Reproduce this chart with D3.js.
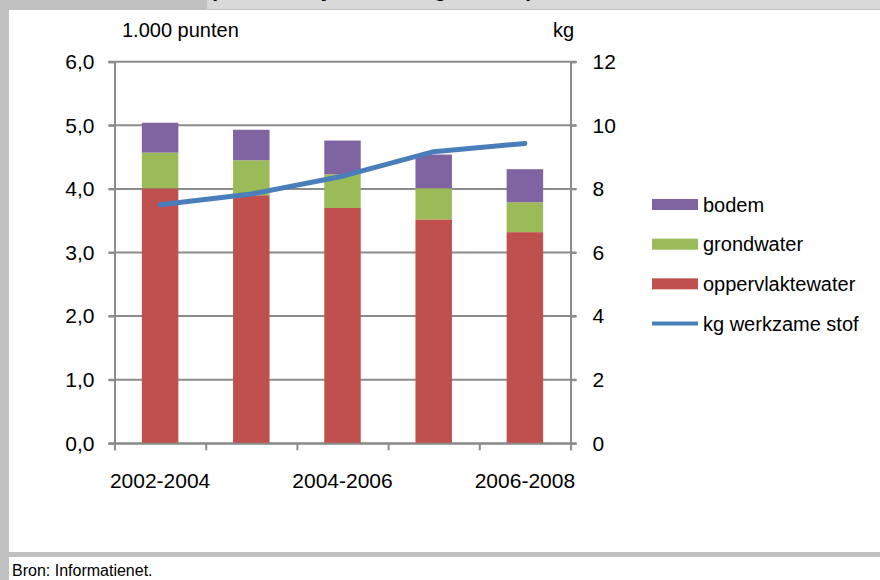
<!DOCTYPE html>
<html>
<head>
<meta charset="utf-8">
<script src="https://cdn.jsdelivr.net/npm/d3@7"></script>
<style>
  html, body { margin: 0; padding: 0; background: #fff; }
  svg { display: block; }
  text { font-family: "Liberation Sans", Arial, sans-serif; fill: #000; }
</style>
</head>
<body>
<svg id="chart" width="880" height="580"></svg>
<script>
// Periods (three-year averages)
const categories = ["2002-2004", "2003-2005", "2004-2006", "2005-2007", "2006-2008"];
const shownCategoryLabels = ["2002-2004", "2004-2006", "2006-2008"];

// Environmental load points (x 1.000) per compartment
const oppervlaktewater = [4.01, 3.90, 3.70, 3.52, 3.32];
const grondwater = [0.56, 0.55, 0.53, 0.49, 0.47];
const bodem = [0.47, 0.48, 0.53, 0.53, 0.52];

// Active substance used (kg), right axis
const kgWerkzameStof = [7.5, 7.84, 8.4, 9.17, 9.43];

const leftTicks = [0, 1, 2, 3, 4, 5, 6];
const rightTicks = [0, 2, 4, 6, 8, 10, 12];

const seriesNames = ["oppervlaktewater", "grondwater", "bodem"];
const seriesColors = { oppervlaktewater: "#c0504d", grondwater: "#9bbb59", bodem: "#8064a2" };
const lineColor = "#4a7ebb";
const gridColor = "#8c8c8c";

const svg = d3.select("#chart");

// Frame: grey border, white panels
svg.append("rect").attr("x", 0).attr("y", 0).attr("width", 880).attr("height", 580).attr("fill", "#c0c0c0");
svg.append("rect").attr("x", 207).attr("y", 0).attr("width", 673).attr("height", 9).attr("fill", "#d9d9d9");
svg.append("defs").append("clipPath").attr("id", "titleClip")
  .append("rect").attr("x", 207).attr("y", 0).attr("width", 673).attr("height", 9);
// Title line above the frame; only its lowest part is inside the page
svg.append("text").attr("clip-path", "url(#titleClip)")
  .attr("x", 210).attr("y", -3)
  .style("font-size", "21px").style("font-weight", "bold")
  .text("(totale analyse van de gebieden)");
svg.append("rect").attr("x", 9).attr("y", 10).attr("width", 871).attr("height", 542).attr("fill", "#fff");
svg.append("rect").attr("x", 9).attr("y", 557).attr("width", 871).attr("height", 23).attr("fill", "#fff");

// Scales
const plotLeft = 114.5, plotRight = 570.5, plotTop = 61.7, plotBottom = 443.3;
const x = d3.scaleBand().domain(categories).range([plotLeft, plotRight]).paddingInner(0.6).paddingOuter(0.3);
const yL = d3.scaleLinear().domain([0, 6]).range([plotBottom, plotTop]);
const yR = d3.scaleLinear().domain([0, 12]).range([plotBottom, plotTop]);

// Gridlines
svg.append("g").selectAll("line").data(leftTicks).join("line")
  .attr("x1", plotLeft - 6).attr("x2", plotRight + 6)
  .attr("y1", d => yL(d)).attr("y2", d => yL(d))
  .attr("stroke", gridColor).attr("stroke-width", 2);

// Stacked bars
const rows = categories.map((c, i) => ({ cat: c, oppervlaktewater: oppervlaktewater[i], grondwater: grondwater[i], bodem: bodem[i] }));
const stacked = d3.stack().keys(seriesNames)(rows);
svg.append("g").selectAll("g").data(stacked).join("g")
  .attr("fill", s => seriesColors[s.key])
  .selectAll("rect").data(s => s).join("rect")
  .attr("x", d => x(d.data.cat))
  .attr("width", x.bandwidth())
  .attr("y", d => yL(d[1]))
  .attr("height", d => yL(d[0]) - yL(d[1]));

// Axes
const fmtL = d => d3.format(".1f")(d).replace(".", ",");
const gL = svg.append("g").attr("transform", `translate(${plotLeft},0)`)
  .call(d3.axisLeft(yL).tickValues(leftTicks).tickFormat(fmtL).tickSize(6).tickPadding(14));
const gR = svg.append("g").attr("transform", `translate(${plotRight},0)`)
  .call(d3.axisRight(yR).tickValues(rightTicks).tickSize(6).tickPadding(16));
[gL, gR].forEach(g => {
  g.select(".domain").attr("stroke", gridColor).attr("stroke-width", 2);
  g.selectAll(".tick line").attr("stroke", gridColor).attr("stroke-width", 2);
  g.selectAll(".tick text").style("font-size", "21px").attr("fill", "#000").style("font-family", "Liberation Sans, Arial, sans-serif");
});

// Category boundaries on the x axis
const boundaries = categories.map(c => x(c) + x.bandwidth() / 2 - x.step() / 2).concat([plotRight]);
const gX = svg.append("g").attr("transform", `translate(0,${plotBottom})`)
  .call(d3.axisBottom(d3.scaleLinear().domain([plotLeft, plotRight]).range([plotLeft, plotRight]))
    .tickValues(boundaries).tickSize(7).tickFormat(""));
gX.select(".domain").attr("stroke", gridColor).attr("stroke-width", 2);
gX.selectAll(".tick line").attr("stroke", gridColor).attr("stroke-width", 2);

svg.append("g").selectAll("text").data(shownCategoryLabels).join("text")
  .attr("x", d => x(d) + x.bandwidth() / 2)
  .attr("y", 488)
  .attr("text-anchor", "middle")
  .style("font-size", "21px")
  .text(d => d);

// Line: kg active substance
const line = d3.line().x((d, i) => x(categories[i]) + x.bandwidth() / 2).y(d => yR(d));
svg.append("path").datum(kgWerkzameStof)
  .attr("d", line).attr("fill", "none")
  .attr("stroke", lineColor).attr("stroke-width", 5)
  .attr("stroke-linecap", "round").attr("stroke-linejoin", "round");

// Axis units
svg.append("text").attr("x", 122).attr("y", 37).style("font-size", "20px").text("1.000 punten");
svg.append("text").attr("x", 553).attr("y", 37).style("font-size", "20px").text("kg");

// Legend
const legendItems = [
  { label: "bodem", color: seriesColors.bodem, type: "rect" },
  { label: "grondwater", color: seriesColors.grondwater, type: "rect" },
  { label: "oppervlaktewater", color: seriesColors.oppervlaktewater, type: "rect" },
  { label: "kg werkzame stof", color: lineColor, type: "line" }
];
const legendY = d3.scalePoint().domain(legendItems.map(d => d.label)).range([204.5, 323.5]);
const lg = svg.append("g").selectAll("g").data(legendItems).join("g")
  .attr("transform", d => `translate(652,${legendY(d.label)})`);
lg.filter(d => d.type === "rect").append("rect")
  .attr("x", 0).attr("y", -5.5).attr("width", 46).attr("height", 11).attr("fill", d => d.color);
lg.filter(d => d.type === "line").append("line")
  .attr("x1", 0).attr("x2", 46).attr("y1", 0).attr("y2", 0)
  .attr("stroke", d => d.color).attr("stroke-width", 4);
lg.append("text").attr("x", 51).attr("y", 7).style("font-size", "20px").text(d => d.label);

// Source
svg.append("text").attr("x", 12).attr("y", 576).style("font-size", "16px").text("Bron: Informatienet.");
</script>
</body>
</html>
